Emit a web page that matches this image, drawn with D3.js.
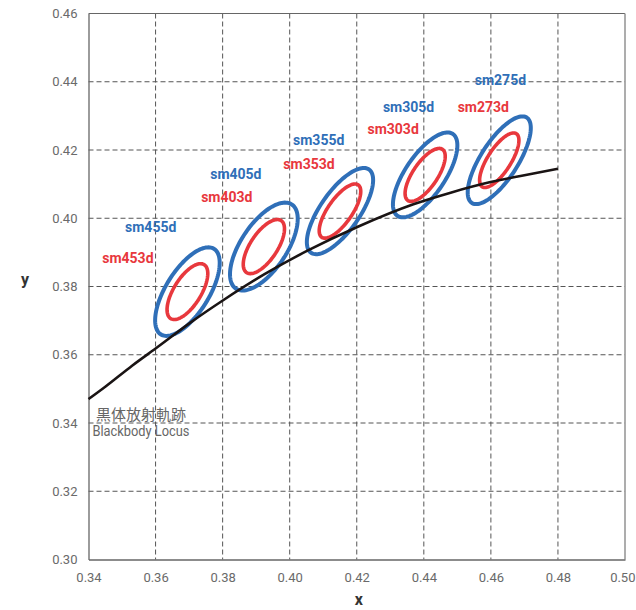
<!DOCTYPE html>
<html><head><meta charset="utf-8">
<script src="https://cdn.jsdelivr.net/npm/d3@7/dist/d3.min.js"></script>
<style>body{margin:0;background:#fff}svg{display:block}</style>
</head><body><svg id="chart" width="636" height="610"></svg>
<script>
// ---- data ----
const xTicks = [0.34, 0.36, 0.38, 0.40, 0.42, 0.44, 0.46, 0.48, 0.50];
const yTicks = [0.30, 0.32, 0.34, 0.36, 0.38, 0.40, 0.42, 0.44, 0.46];

const locusX = [0.340, 0.3451, 0.3530, 0.3608, 0.3705, 0.3805, 0.3925, 0.4053, 0.4205, 0.4369, 0.4480, 0.4599, 0.4700, 0.4800];
const locusY = [0.3470, 0.3507, 0.3568, 0.3624, 0.3695, 0.3762, 0.3836, 0.3905, 0.3976, 0.4041, 0.4075, 0.4106, 0.4126, 0.4145];

const centerX = [0.3695, 0.3923, 0.4150, 0.4404, 0.4625];
const centerY = [0.3785, 0.3917, 0.4021, 0.4127, 0.4170];
const tiltDeg = [57.5, 55.7, 54.5, 55.3, 56.7];

const step5Names = ["sm455d", "sm405d", "sm355d", "sm305d", "sm275d"];
const step5A = [0.01483, 0.01489, 0.01495, 0.01457, 0.01495];
const step5B = [0.00641, 0.00680, 0.00580, 0.00590, 0.00550];

const step3Names = ["sm453d", "sm403d", "sm353d", "sm303d", "sm273d"];
const step3A = [0.00935, 0.00920, 0.00940, 0.00910, 0.00930];
const step3B = [0.00405, 0.00400, 0.00360, 0.00365, 0.00345];

const step5LabelX = [0.3509, 0.3763, 0.4010, 0.4278, 0.4552];
const step5LabelY = [0.3959, 0.4115, 0.4216, 0.4310, 0.4391];
const step3LabelX = [0.3441, 0.3736, 0.3981, 0.4232, 0.4501];
const step3LabelY = [0.3869, 0.4048, 0.4143, 0.4246, 0.4310];

const locusNameJa = "黒体放射軌跡";
const locusNameEn = "Blackbody Locus";

// ---- layout ----
const svg = d3.select("#chart");
const L = 88.5, R = 625, T = 13.5, B = 559.5;
const x = d3.scaleLinear().domain([0.34, 0.50]).range([L, R]);
const y = d3.scaleLinear().domain([0.30, 0.46]).range([B, T]);
const BLUE = "#2f6fb8", RED = "#e8383d";

// grid
svg.append("g").selectAll("line").data(xTicks.slice(1, -1)).join("line")
  .attr("x1", d => x(d)).attr("x2", d => x(d)).attr("y1", T).attr("y2", B)
  .attr("stroke", "#555").attr("stroke-width", 1).attr("stroke-dasharray", "5,3");
svg.append("g").selectAll("line").data(yTicks.slice(1, -1)).join("line")
  .attr("y1", d => y(d)).attr("y2", d => y(d)).attr("x1", L).attr("x2", R)
  .attr("stroke", "#555").attr("stroke-width", 1).attr("stroke-dasharray", "5,3");

// frame
svg.append("line").attr("x1", L).attr("x2", R).attr("y1", T).attr("y2", T).attr("stroke", "#666").attr("stroke-width", 1.2);
svg.append("line").attr("x1", R).attr("x2", R).attr("y1", T).attr("y2", B).attr("stroke", "#999").attr("stroke-width", 1.6);

// axes
const xAxis = d3.axisBottom(x).tickValues(xTicks).tickFormat(d3.format(".2f")).tickSize(0).tickPadding(13);
const yAxis = d3.axisLeft(y).tickValues(yTicks).tickFormat(d3.format(".2f")).tickSize(0).tickPadding(11);
const gx = svg.append("g").attr("transform", `translate(0,${B})`).call(xAxis);
const gy = svg.append("g").attr("transform", `translate(${L},0)`).call(yAxis);
[gx, gy].forEach(g => {
  g.select(".domain").attr("stroke", "#666").attr("stroke-width", 1.3);
  g.selectAll("text").attr("font-family", "Roboto, sans-serif").attr("font-size", 13).attr("fill", "#6a6a6a");
});
// keep the last x tick label inside the page
gx.selectAll(".tick").filter(d => d === xTicks[xTicks.length - 1]).select("text")
  .attr("text-anchor", "end").attr("x", 635 - R);

// ellipses
function ellipsePts(cx, cy, a, b, deg) {
  const th = deg * Math.PI / 180, pts = [];
  for (let i = 0; i < 120; i++) {
    const t = i / 120 * 2 * Math.PI;
    pts.push([cx + a * Math.cos(t) * Math.cos(th) - b * Math.sin(t) * Math.sin(th),
              cy + a * Math.cos(t) * Math.sin(th) + b * Math.sin(t) * Math.cos(th)]);
  }
  return pts;
}
const closed = d3.line().x(d => x(d[0])).y(d => y(d[1])).curve(d3.curveLinearClosed);
const eg = svg.append("g").attr("fill", "none");
centerX.forEach((cx, i) => {
  eg.append("path").attr("d", closed(ellipsePts(cx, centerY[i], step5A[i], step5B[i], tiltDeg[i])))
    .attr("stroke", BLUE).attr("stroke-width", 4);
  eg.append("path").attr("d", closed(ellipsePts(cx, centerY[i], step3A[i], step3B[i], tiltDeg[i])))
    .attr("stroke", RED).attr("stroke-width", 3.6);
});

// locus
const locusLine = d3.line().x(d => x(d[0])).y(d => y(d[1])).curve(d3.curveMonotoneX);
svg.append("path").attr("d", locusLine(locusX.map((v, i) => [v, locusY[i]])))
  .attr("fill", "none").attr("stroke", "#1a1414").attr("stroke-width", 2.6);

// labels
const lg = svg.append("g").attr("font-family", "Roboto, sans-serif").attr("font-weight", "bold").attr("font-size", 14);
step5Names.forEach((n, i) => lg.append("text").attr("x", x(step5LabelX[i])).attr("y", y(step5LabelY[i])).attr("fill", BLUE).text(n));
step3Names.forEach((n, i) => lg.append("text").attr("x", x(step3LabelX[i])).attr("y", y(step3LabelY[i])).attr("fill", RED).text(n));

svg.append("text").attr("x", 96).attr("y", 420).attr("font-family", "'Noto Sans CJK JP', sans-serif")
  .attr("font-size", 15).attr("fill", "#666").text(locusNameJa);
svg.append("text").attr("x", 92.5).attr("y", 436).attr("font-family", "Roboto, sans-serif")
  .attr("font-size", 14).attr("fill", "#666").attr("textLength", 97).attr("lengthAdjust", "spacingAndGlyphs").text(locusNameEn);

// axis titles
svg.append("text").attr("x", (L + R) / 2 + 2).attr("y", 605).attr("text-anchor", "middle")
  .attr("font-family", "Roboto, sans-serif").attr("font-weight", "bold").attr("font-size", 16).attr("fill", "#333").text("x");
svg.append("text").attr("x", 25).attr("y", 285).attr("text-anchor", "middle")
  .attr("font-family", "Roboto, sans-serif").attr("font-weight", "bold").attr("font-size", 16).attr("fill", "#333").text("y");
</script></body></html>
